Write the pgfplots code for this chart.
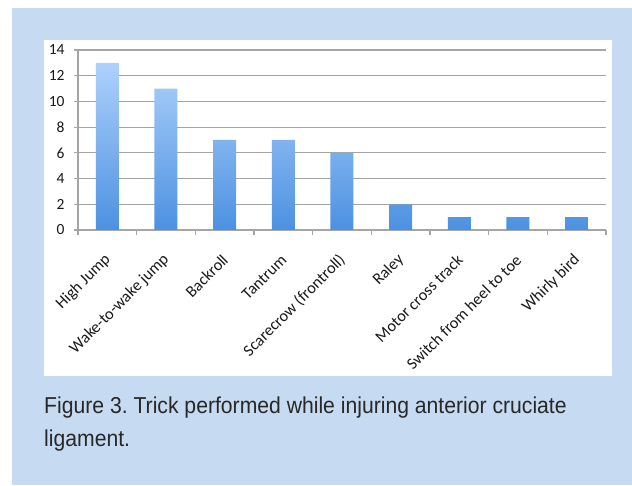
\documentclass[border=0pt]{standalone}
\usepackage{fontspec}
\setmainfont{Carlito}
\newfontfamily\capfont[FakeStretch=0.92]{Liberation Sans}
\usepackage{pgfplots}
\pgfplotsset{compat=1.18}
\definecolor{bgblue}{RGB}{198,218,241}
\definecolor{bartop}{RGB}{174,209,251}
\definecolor{barbot}{RGB}{76,145,225}
\definecolor{gridgray}{RGB}{165,165,165}
\definecolor{captext}{RGB}{40,40,40}
\definecolor{ticktext}{RGB}{25,25,25}
\begin{document}
\frenchspacing
\begin{tikzpicture}[x=1pt,y=1pt]
\useasboundingbox (0,0) rectangle (632,485);
\fill[white] (0,0) rectangle (632,485);
\fill[bgblue] (12,0) rectangle (632,477);
\fill[white] (44,109) rectangle (612,445);
\begin{axis}[
  at={(78pt,255pt)}, anchor=south west,
  scale only axis, width=528pt, height=180pt,
  ymin=0, ymax=14, xmin=-0.5, xmax=8.5,
  ytick={0,2,...,14},
  ymajorgrids, grid style={gridgray, line width=1.2pt},
  axis x line=bottom, axis y line=left,
  axis line style={gridgray, line width=1.2pt, -},
  xtick={0,...,8},
  xticklabels={High Jump, Wake-to-wake jump, Backroll, Tantrum, Scarecrow (frontroll), Raley, Motor cross track, Switch from heel to toe, Whirly bird},
  major x tick style={draw=none},
  minor xtick={-0.5,0.5,...,8.5},
  tick align=outside,
  tick style={gridgray, line width=1.2pt},
  major tick length=4pt, minor tick length=5pt,
  /pgf/number format/assume math mode=true,
  yticklabel style={font=\fontsize{15.5}{15.5}\selectfont, text=ticktext, xshift=-6pt},
  xticklabel style={font=\fontsize{16.3}{16.3}\selectfont, text=ticktext, yshift=-21pt, xshift=3pt, rotate=45, anchor=east},
  clip=false,
]
\addplot[ybar, bar width=23pt, bar shift=0pt, draw=none, top color=bartop, bottom color=barbot]
  coordinates {(0,13) (1,11) (2,7) (3,7) (4,6) (5,2) (6,1) (7,1) (8,1)};
\end{axis}
\node[anchor=base west, inner sep=0, text=captext, font=\capfont\fontsize{23}{23}\selectfont] at (44,71) {Figure 3. Trick performed while injuring anterior cruciate};
\node[anchor=base west, inner sep=0, text=captext, font=\capfont\fontsize{23}{23}\selectfont] at (44,39) {ligament.};
\end{tikzpicture}
\end{document}
